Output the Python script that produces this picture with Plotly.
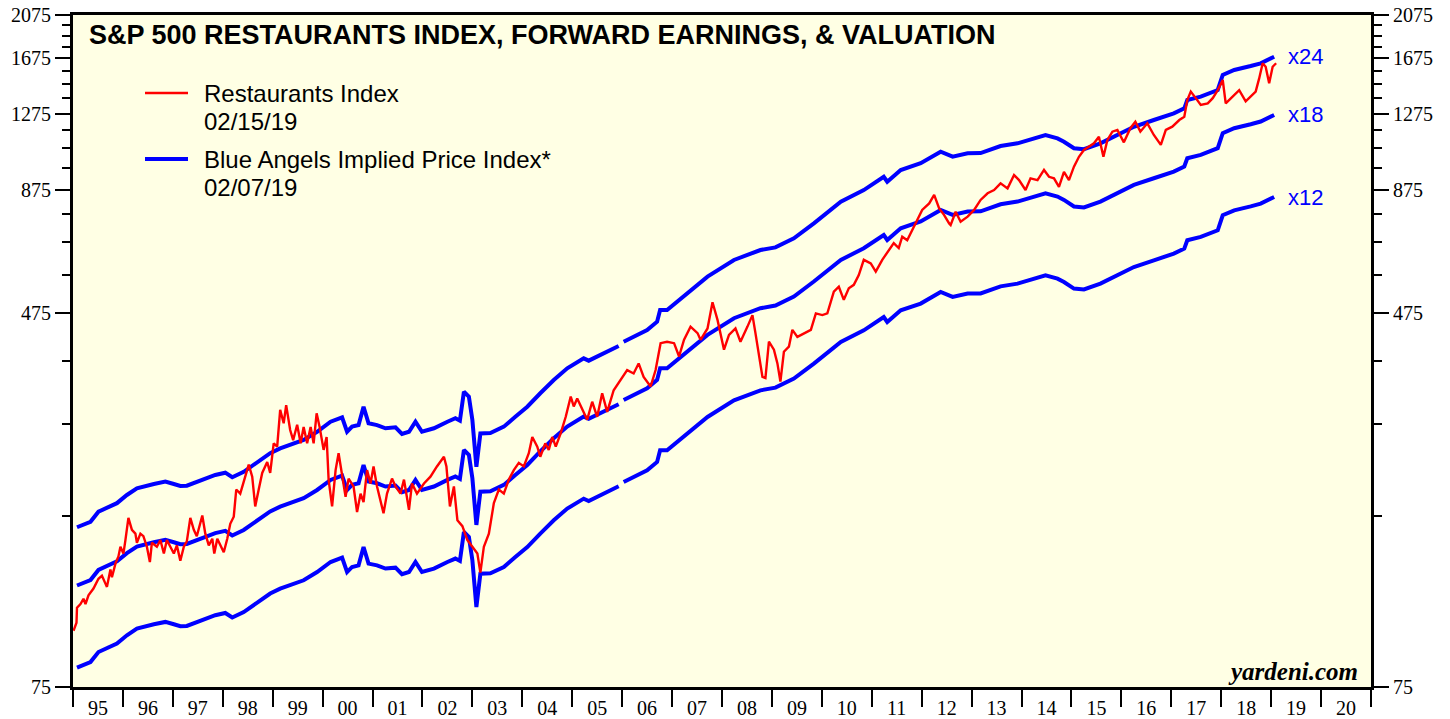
import math
import plotly.graph_objects as go

# ---------------- data ----------------
rest_years = [
    1995.01, 1995.07, 1995.08, 1995.15, 1995.21, 1995.25, 1995.31, 1995.41, 1995.51, 1995.58,
    1995.65, 1995.68, 1995.75, 1995.78, 1995.85, 1995.91, 1995.95, 1996.01, 1996.05, 1996.11,
    1996.18, 1996.25, 1996.28, 1996.35, 1996.41, 1996.48, 1996.54, 1996.58, 1996.68, 1996.75,
    1996.82, 1996.88, 1996.95, 1997.02, 1997.08, 1997.15, 1997.22, 1997.28, 1997.35, 1997.42,
    1997.48, 1997.59, 1997.65, 1997.72, 1997.79, 1997.83, 1997.89, 1997.95, 1998.02, 1998.09,
    1998.15, 1998.22, 1998.27, 1998.35, 1998.42, 1998.52, 1998.59, 1998.65, 1998.72, 1998.79,
    1998.89, 1998.95, 1999.02, 1999.09, 1999.15, 1999.22, 1999.27, 1999.35, 1999.41, 1999.49,
    1999.56, 1999.62, 1999.69, 1999.76, 1999.82, 1999.88, 1999.94, 2000.02, 2000.08, 2000.12,
    2000.19, 2000.26, 2000.32, 2000.39, 2000.46, 2000.52, 2000.62, 2000.69, 2000.76, 2000.82,
    2000.89, 2000.96, 2001.02, 2001.09, 2001.22, 2001.29, 2001.39, 2001.46, 2001.56, 2001.63,
    2001.73, 2001.79, 2001.89, 2002.03, 2002.16, 2002.29, 2002.43, 2002.48, 2002.55, 2002.63,
    2002.70, 2002.80, 2002.90, 2003.00, 2003.10, 2003.16, 2003.23, 2003.33, 2003.43, 2003.53,
    2003.63, 2003.73, 2003.83, 2003.93, 2004.03, 2004.13, 2004.20, 2004.30, 2004.36, 2004.46,
    2004.53, 2004.60, 2004.67, 2004.77, 2004.87, 2004.97, 2005.03, 2005.10, 2005.30, 2005.40,
    2005.50, 2005.60, 2005.70, 2005.83, 2005.97, 2006.10, 2006.23, 2006.33, 2006.43, 2006.57,
    2006.67, 2006.77, 2006.90, 2007.04, 2007.14, 2007.24, 2007.37, 2007.51, 2007.57, 2007.71,
    2007.81, 2007.91, 2008.04, 2008.14, 2008.27, 2008.37, 2008.51, 2008.61, 2008.67, 2008.74,
    2008.81, 2008.87, 2008.94, 2009.04, 2009.11, 2009.17, 2009.24, 2009.34, 2009.41, 2009.51,
    2009.64, 2009.78, 2009.88, 2010.01, 2010.11, 2010.24, 2010.34, 2010.44, 2010.54, 2010.64,
    2010.74, 2010.84, 2010.98, 2011.08, 2011.21, 2011.34, 2011.44, 2011.54, 2011.61, 2011.71,
    2011.81, 2011.91, 2012.01, 2012.15, 2012.25, 2012.35, 2012.45, 2012.55, 2012.58, 2012.68,
    2012.78, 2012.92, 2013.05, 2013.18, 2013.32, 2013.45, 2013.58, 2013.72, 2013.85, 2013.95,
    2014.08, 2014.18, 2014.32, 2014.45, 2014.55, 2014.65, 2014.75, 2014.85, 2014.95, 2015.05,
    2015.15, 2015.25, 2015.35, 2015.45, 2015.55, 2015.64, 2015.72, 2015.82, 2015.92, 2016.05,
    2016.18, 2016.28, 2016.38, 2016.52, 2016.65, 2016.79, 2016.89, 2017.02, 2017.16, 2017.26,
    2017.32, 2017.39, 2017.49, 2017.59, 2017.73, 2017.83, 2017.93, 2018.03, 2018.09, 2018.19,
    2018.29, 2018.36, 2018.49, 2018.59, 2018.69, 2018.76, 2018.83, 2018.89, 2018.96, 2019.03,
    2019.10,
]
rest_values = [
    99, 103, 111, 113, 116, 113, 118, 122, 128, 130,
    125, 123, 134, 129, 138, 143, 150, 145, 155, 173,
    163, 160, 153, 160, 158, 150, 139, 153, 150, 155,
    145, 155, 150, 145, 151, 140, 150, 154, 173, 163,
    158, 175, 160, 151, 156, 145, 156, 151, 146, 156,
    168, 174, 199, 195, 207, 225, 212, 183, 199, 216,
    228, 216, 250, 246, 295, 276, 302, 267, 254, 274,
    250, 271, 250, 271, 250, 290, 271, 242, 258, 209,
    183, 219, 238, 212, 192, 210, 202, 178, 195, 187,
    219, 205, 223, 202, 177, 195, 210, 202, 195, 209,
    180, 205, 195, 205, 212, 223, 234, 223, 183, 202,
    171, 166, 155, 150, 145, 132, 150, 160, 186, 199,
    195, 209, 219, 227, 223, 238, 258, 246, 234, 250,
    242, 258, 246, 263, 285, 315, 300, 312, 281, 307,
    285, 320, 292, 325, 342, 359, 353, 371, 347, 331,
    359, 410, 413, 410, 384, 417, 445, 431, 417, 441,
    502, 460, 397, 427, 441, 413, 445, 471, 431, 390,
    347, 345, 413, 397, 371, 339, 393, 403, 438, 423,
    431, 438, 475, 471, 475, 529, 542, 508, 538, 547,
    574, 619, 608, 584, 619, 650, 672, 656, 694, 682,
    717, 754, 792, 818, 853, 798, 772, 741, 735, 785,
    747, 766, 792, 832, 860, 874, 903, 881, 941, 918,
    874, 926, 918, 965, 933, 926, 888, 956, 918, 981,
    1030, 1065, 1082, 1101, 1137, 1030, 1119, 1166, 1176, 1106,
    1186, 1225, 1166, 1215, 1147, 1092, 1176, 1195, 1235, 1255,
    1363, 1421, 1376, 1330, 1341, 1376, 1432, 1505, 1341, 1376,
    1409, 1432, 1355, 1386, 1421, 1517, 1635, 1607, 1481, 1607,
    1635,
]

# forward earnings (index points); None marks the break in the series
eps_years = [
    1995.08, 1995.35, 1995.51, 1995.68, 1995.88, 1996.08, 1996.28, 1996.62, 1996.85, 1997.02,
    1997.15, 1997.28, 1997.48, 1997.69, 1997.85, 1998.05, 1998.19, 1998.42, 1998.69, 1998.95,
    1999.15, 1999.42, 1999.62, 1999.89, 2000.16, 2000.39, 2000.49, 2000.59, 2000.72, 2000.82,
    2000.92, 2001.09, 2001.26, 2001.46, 2001.59, 2001.73, 2001.86, 2001.99, 2002.23, 2002.50,
    2002.66, 2002.75, 2002.83, 2002.93, 2003.00, 2003.08, 2003.16, 2003.36, 2003.63, 2003.86,
    2004.10, 2004.36, 2004.63, 2004.90, 2005.23, 2005.33, 2005.57, 2005.93, 2005.98, 2006.03,
    2006.50, 2006.70, 2006.76, 2006.90, 2007.24, 2007.71, 2008.24, 2008.77, 2009.07, 2009.44,
    2009.84, 2010.24, 2010.38, 2010.84, 2011.24, 2011.31, 2011.58, 2011.98, 2012.38, 2012.62,
    2012.92, 2013.18, 2013.58, 2013.92, 2014.25, 2014.48, 2014.72, 2014.85, 2015.05, 2015.25,
    2015.58, 2015.92, 2016.25, 2016.65, 2017.05, 2017.26, 2017.32, 2017.59, 2017.93, 2018.03,
    2018.26, 2018.59, 2018.79, 2019.06,
]
fwd_eps = [
    6.88, 7.07, 7.43, 7.56, 7.75, 8.07, 8.34, 8.52, 8.62, 8.52,
    8.44, 8.45, 8.62, 8.76, 8.91, 9.01, 8.81, 9.05, 9.51, 9.92,
    10.16, 10.42, 10.59, 11.03, 11.59, 11.84, 11.03, 11.31, 11.40, 12.48,
    11.50, 11.40, 11.22, 11.27, 10.91, 11.03, 11.59, 11.03, 11.22, 11.59,
    11.79, 11.65, 13.44, 13.12, 11.69, 9.28, 10.94, 10.96, 11.31, 11.88,
    12.48, 13.34, 14.24, 15.09, 15.85, 15.67, 16.11, 16.85, None, 17.21,
    18.23, 19.00, 20.13, 20.13, 21.57, 23.73, 25.77, 27.07, 27.43, 28.68,
    30.89, 33.53, 34.37, 36.41, 38.88, 37.94, 40.19, 41.56, 44.00, 42.94,
    43.66, 43.70, 45.25, 45.86, 47.00, 47.77, 47.00, 46.23, 44.75, 44.55,
    45.86, 47.77, 49.78, 51.46, 53.19, 54.52, 56.81, 57.75, 59.69, 64.28,
    65.88, 67.19, 68.10, 70.34,
]
multiples = [24, 18, 12]
multiple_labels = ["x24", "x18", "x12"]

year_labels = ["95", "96", "97", "98", "99", "00", "01", "02", "03", "04", "05", "06", "07",
               "08", "09", "10", "11", "12", "13", "14", "15", "16", "17", "18", "19", "20"]
y_major = [75, 475, 875, 1275, 1675, 2075]
y_minor = [175, 275, 375, 575, 675, 775, 975, 1075, 1175, 1375, 1475, 1575, 1775, 1875, 1975]

title_text = "S&P 500 RESTAURANTS INDEX, FORWARD EARNINGS, & VALUATION"
legend_entries = [("Restaurants Index", "02/15/19", "#FF0000", 2.5),
                  ("Blue Angels Implied Price Index*", "02/07/19", "#0000FF", 4)]

# ---------------- figure ----------------
W, H = 1450, 719
PLOT_L, PLOT_R, PLOT_T, PLOT_B = 73, 1371, 15, 687          # window pixels
ML, MR, MT, MB = PLOT_L, W - PLOT_R, PLOT_T, H - PLOT_B
PW, PH = PLOT_R - PLOT_L, PLOT_B - PLOT_T


def px_x(px):
    return (px - PLOT_L) / PW


def px_y(py):
    return (PLOT_B - py) / PH


fig = go.Figure()
for m in multiples:
    fig.add_trace(go.Scatter(
        x=eps_years, y=[None if e is None else e * m for e in fwd_eps],
        mode="lines", line=dict(color="#0000FF", width=4),
        connectgaps=False, showlegend=False, hoverinfo="skip"))
fig.add_trace(go.Scatter(
    x=rest_years, y=rest_values, mode="lines",
    line=dict(color="#FF0000", width=2.4), showlegend=False))
# dummy trace so the right-hand axis is drawn
fig.add_trace(go.Scatter(x=[2000], y=[100], yaxis="y2", mode="markers",
                         marker=dict(opacity=0), showlegend=False, hoverinfo="skip"))

serif = "Liberation Serif, Times New Roman, serif"
sans = "Liberation Sans, Arial, sans-serif"
yrange = [math.log10(75), math.log10(2075)]

yaxis_common = dict(
    type="log", range=yrange, tickmode="array", tickvals=y_major,
    ticktext=[str(v) for v in y_major], ticks="outside", ticklen=15, tickwidth=2,
    tickcolor="black", showgrid=False, zeroline=False, automargin=False,
    ticklabeloverflow="allow",
    tickfont=dict(family=serif, size=20, color="black"),
    showline=True, linewidth=3, linecolor="black",
    minor=dict(tickmode="array", tickvals=y_minor, ticks="outside", ticklen=8,
               tickwidth=2, tickcolor="black", showgrid=False),
)

fig.update_layout(
    width=W, height=H,
    margin=dict(l=ML, r=MR, t=MT, b=MB),
    paper_bgcolor="white", plot_bgcolor="#FFFFE4",
    showlegend=False,
    xaxis=dict(
        range=[1995, 2021], tickmode="array",
        tickvals=[1995.5 + i for i in range(len(year_labels))], ticktext=year_labels,
        ticks="", ticklabelstandoff=1, automargin=False, ticklabeloverflow="allow",
        tickfont=dict(family=serif, size=20, color="black"),
        showgrid=False, zeroline=False, showline=True, linewidth=3, linecolor="black",
        mirror=True,
        minor=dict(tickmode="array", tickvals=list(range(1995, 2022)), ticks="outside",
                   ticklen=17, tickwidth=2, tickcolor="black", showgrid=False),
    ),
    yaxis=dict(side="left", **yaxis_common),
    yaxis2=dict(side="right", overlaying="y", **yaxis_common),
)

annotations = [
    dict(text="<b>" + title_text + "</b>", xref="paper", yref="paper",
         x=px_x(87), y=px_y(35), xanchor="left", yanchor="middle", showarrow=False,
         font=dict(family=sans, size=27, color="black")),
    dict(text="<b><i>yardeni.com</i></b>", xref="paper", yref="paper",
         x=px_x(1360), y=px_y(671), xanchor="right", yanchor="middle", showarrow=False,
         font=dict(family=serif, size=25, color="black")),
]
shapes = []
legend_rows = [(93, 121), (159, 187)]
for (name, date, col, lw), (y1, y2) in zip(legend_entries, legend_rows):
    for txt, yy in ((name, y1), (date, y2)):
        annotations.append(dict(
            text=txt, xref="paper", yref="paper", x=px_x(202), y=px_y(yy),
            xanchor="left", yanchor="middle", align="left", showarrow=False,
            font=dict(family=sans, size=24, color="black")))
    shapes.append(dict(type="line", xref="paper", yref="paper",
                       x0=px_x(145), x1=px_x(188), y0=px_y(y1), y1=px_y(y1),
                       line=dict(color=col, width=lw)))

last_eps = fwd_eps[-1]
for m, lab in zip(multiples, multiple_labels):
    annotations.append(dict(
        text=lab, xref="x", yref="y", x=2019.3, y=math.log10(last_eps * m),
        xanchor="left", yanchor="middle", showarrow=False,
        font=dict(family=sans, size=22, color="#0000FF")))

fig.update_layout(annotations=annotations, shapes=shapes)
# remove the page's default 8px body margin so the figure fills the window exactly
fig.write_html("out.html",
               config={"displayModeBar": False},
               post_script="document.body.style.margin='0px';document.body.style.overflow='hidden';")
